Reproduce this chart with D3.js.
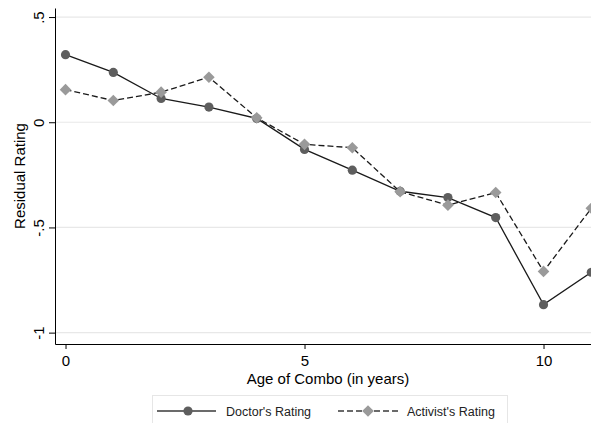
<!DOCTYPE html>
<html>
<head>
<meta charset="utf-8">
<script src="https://cdn.jsdelivr.net/npm/d3@7"></script>
<style>
  html, body { margin: 0; padding: 0; background: #fff; }
  svg { display: block; font-family: "Liberation Sans", Arial, sans-serif; }
</style>
</head>
<body>
<svg id="chart" width="591" height="423"></svg>
<script>
const years = [0, 1, 2, 3, 4, 5, 6, 7, 8, 9, 10, 11];
const doctorRating = [0.321, 0.237, 0.113, 0.072, 0.018, -0.129, -0.228, -0.328, -0.358, -0.453, -0.867, -0.713];
const activistRating = [0.155, 0.103, 0.143, 0.214, 0.021, -0.105, -0.121, -0.330, -0.394, -0.334, -0.709, -0.409];
const yTicks = [0.5, 0, -0.5, -1];
const yTickLabels = [".5", "0", "-.5", "-1"];
const xTicks = [0, 5, 10];
const seriesNames = ["Doctor's Rating", "Activist's Rating"];

const svg = d3.select("#chart");
const plotLeft = 55, plotBottom = 344, plotTop = 8;
const x = d3.scaleLinear().domain([-0.22, 11.3]).range([plotLeft, plotLeft + 11.52 * 47.8]);
const y = d3.scaleLinear().domain([-1.054, 0.543]).range([plotBottom, plotTop]);

// gridlines
svg.append("g").selectAll("line").data(yTicks).join("line")
  .attr("x1", plotLeft + 1).attr("x2", 600)
  .attr("y1", d => y(d)).attr("y2", d => y(d))
  .attr("stroke", "#e8e8e8").attr("stroke-width", 1.2);

// y axis
const yAxis = svg.append("g").attr("transform", `translate(${plotLeft},0)`)
  .call(d3.axisLeft(y).tickValues(yTicks).tickSize(6).tickSizeOuter(0)
    .tickFormat((d, i) => yTickLabels[i]));
yAxis.select(".domain").attr("stroke", "#000");
yAxis.selectAll(".tick line").attr("stroke", "#000");
yAxis.selectAll(".tick text")
  .attr("x", null).attr("dy", null)
  .attr("transform", "translate(-11,0) rotate(-90)")
  .attr("text-anchor", "middle")
  .attr("font-size", 15).attr("fill", "#000");

// x axis
const xAxis = svg.append("g").attr("transform", `translate(0,${plotBottom})`)
  .call(d3.axisBottom(x).tickValues(xTicks).tickSize(5).tickSizeOuter(0)
    .tickFormat(d3.format("d")));
xAxis.select(".domain").attr("stroke", "#000");
xAxis.selectAll(".tick line").attr("stroke", "#000");
xAxis.selectAll(".tick text")
  .attr("y", 22).attr("dy", null)
  .attr("font-size", 15).attr("fill", "#000");

// axis titles
svg.append("text").attr("transform", `translate(24.5,${(plotTop + plotBottom) / 2}) rotate(-90)`)
  .attr("text-anchor", "middle").attr("font-size", 15).attr("fill", "#000")
  .text("Residual Rating");
svg.append("text").attr("x", 328).attr("y", 384)
  .attr("text-anchor", "middle").attr("font-size", 15).attr("fill", "#000")
  .text("Age of Combo (in years)");

// lines
const line = d3.line().x((d, i) => x(years[i])).y(d => y(d));
svg.append("path").datum(doctorRating).attr("d", line)
  .attr("fill", "none").attr("stroke", "#1a1a1a").attr("stroke-width", 1.3);
svg.append("g").selectAll("circle").data(doctorRating).join("circle")
  .attr("cx", (d, i) => x(years[i])).attr("cy", d => y(d)).attr("r", 4.6)
  .attr("fill", "#5e5e5e");

svg.append("path").datum(activistRating).attr("d", line)
  .attr("fill", "none").attr("stroke", "#1a1a1a").attr("stroke-width", 1.3)
  .attr("stroke-dasharray", "6,3");
const diamond = (cx, cy, r) => `M${cx},${cy - r}L${cx + r},${cy}L${cx},${cy + r}L${cx - r},${cy}Z`;
svg.append("g").selectAll("path").data(activistRating).join("path")
  .attr("d", (d, i) => diamond(x(years[i]), y(d), 5.8))
  .attr("fill", "#9a9a9a");

// legend
const lg = svg.append("g");
lg.append("rect").attr("x", 152.5).attr("y", 395.5).attr("width", 355).attr("height", 32)
  .attr("fill", "#fff").attr("stroke", "#e6e6e6");
const ly = 411;
lg.append("line").attr("x1", 157).attr("x2", 216).attr("y1", ly).attr("y2", ly)
  .attr("stroke", "#3a3a3a").attr("stroke-width", 1.3);
lg.append("circle").attr("cx", 188).attr("cy", ly).attr("r", 4.6).attr("fill", "#5e5e5e");
lg.append("text").attr("x", 226).attr("y", ly + 4.5).attr("font-size", 12.5).attr("fill", "#222")
  .text(seriesNames[0]);
lg.append("line").attr("x1", 338).attr("x2", 398).attr("y1", ly).attr("y2", ly)
  .attr("stroke", "#3a3a3a").attr("stroke-width", 1.3).attr("stroke-dasharray", "6,3");
lg.append("path").attr("d", diamond(368, ly, 5.8)).attr("fill", "#9a9a9a");
lg.append("text").attr("x", 407).attr("y", ly + 4.5).attr("font-size", 12.5).attr("fill", "#222")
  .text(seriesNames[1]);
</script>
</body>
</html>
